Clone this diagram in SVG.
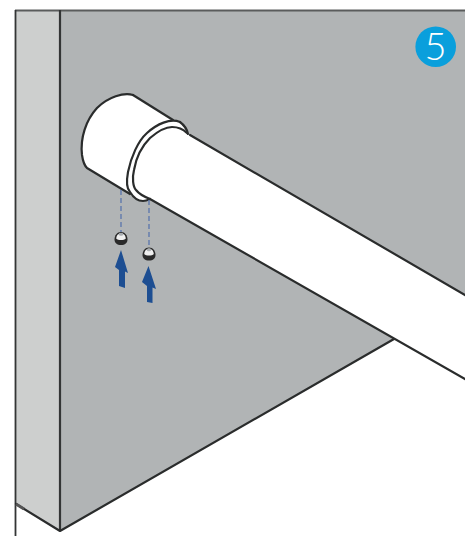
<svg xmlns="http://www.w3.org/2000/svg" width="465" height="536" viewBox="0 0 465 536">
<defs>
<style>
.l{fill:none;stroke:#2a2c2c;stroke-width:2.200;stroke-linecap:round;stroke-linejoin:round}
.d{fill:none;stroke:#6079ad;stroke-width:1.400;stroke-dasharray:5 3}
.a{fill:#1d4e92}
</style>
<g id="screw">
<path d="M-6.500 1C-6.500 -3 -4 -6.500 0 -6.500C4 -6.500 6.500 -3 6.500 1C6.500 4.500 4 6.500 0 6.500C-4 6.500 -6.500 4.500 -6.500 1Z" fill="#2a2a2a"/>
<path d="M-4.800 0C-4.500 -3 -3 -5.300 0 -5.300C3 -5.300 4.500 -3 4.800 0C3 2 -3 2 -4.800 0Z" fill="#efefef"/>
<ellipse cx="0" cy="-4.200" rx="2.200" ry="1.500" fill="#a9adb0"/>
</g>
</defs>
<rect width="465" height="536" fill="#fff"/>
<g id="wall">
<path d="M60 10H465V295L394 339L60 531Z" fill="#b1b4b5"/>
<path d="M16 10H60V531L16 504Z" fill="#cdcfce"/>
<path d="M465 296V379L394 339Z" fill="#fff"/>
<path d="M15 10.500H465" fill="none" stroke="#5a5c5c" stroke-width="2"/>
<path d="M15.500 10V536" fill="none" stroke="#333535" stroke-width="1.800"/>
<path d="M60 10V531" fill="none" stroke="#333535" stroke-width="2.200"/>
<path d="M16 504L60 531L394 339" class="l"/>
<path d="M16 504L24 509" fill="none" stroke="#555" stroke-width="3"/>
</g>
<g id="pipe">
<path d="M133 95L172 120L180 122L188 133L190 135L465 295V379L150 199L140 201L87 168C84 165 83 162 82 155C80 138 86 120 97 108C108 97 124 92 133 95Z" fill="#fff"/>
<path d="M133 95C124 92 108 97 97 108C86 120 80 138 82 155C83 162 84 165 87 168L130 194" class="l"/>
<path d="M133 95L173 120" class="l"/>
<path d="M180 122C184 125 187 129 188 134" class="l"/>
<path d="M180 122C170 118 157 124 147 133C138 141 131 157 128 172C126 183 127 189 130 192C133 197 138 201 143 201C146 201 148 200 150 199" class="l"/>
<path d="M187 133C183 129 178 127 172 127C165 127 157 132 150 138C142 146 136 158 134 170C132 178 133 187 136 190C139 194 145 197 150 199" class="l"/>
<path d="M190 135L465 295" class="l"/>
<path d="M150 199L465 379" class="l"/>
</g>
<g id="connectors">
<path d="M121 190V232" class="d"/>
<path d="M149 200V248" class="d"/>
</g>
<g id="screw-1"><use href="#screw" x="121" y="238.500"/></g>
<g id="screw-2"><use href="#screw" x="149" y="254"/></g>
<g id="arrow-1"><path class="a" d="M121 250L128 273L125 271.500L125 288L119 286L119 270L115 267Z"/></g>
<g id="arrow-2"><path class="a" d="M148.500 266L156 289L152.500 287.500L152.500 303L147 302L147 286L142 282Z"/></g>
<g id="badge">
<circle cx="435.700" cy="46.700" r="20.300" fill="#0a9fdc"/>
<text x="435.500" y="60" font-family="Lato, sans-serif" font-weight="300" font-size="38" fill="#fff" text-anchor="middle">5</text>
</g>
</svg>
